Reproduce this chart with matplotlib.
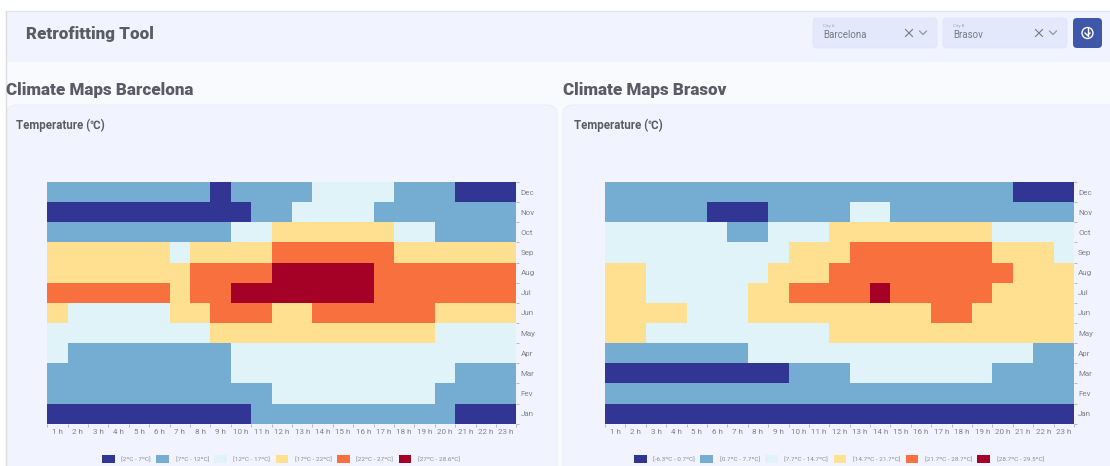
import matplotlib
matplotlib.use("Agg")
import matplotlib.pyplot as plt
from matplotlib.colors import ListedColormap, BoundaryNorm
from matplotlib.patches import FancyBboxPatch, Patch, Rectangle, Circle
import numpy as np

plt.rcParams['font.family'] = ['Roboto', 'DejaVu Sans']

hours = ['%d h' % h for h in range(1, 24)]
months = ['Jan', 'Fev', 'Mar', 'Apr', 'May', 'Jun', 'Jul', 'Aug', 'Sep', 'Oct', 'Nov', 'Dec']
colors = ['#313695', '#74add1', '#e0f3f8', '#fee090', '#f9703f', '#a50026']

# temperature class per hour, Jan first
barcelona = [
    [0,0,0,0,0,0,0,0,0,0,1,1,1,1,1,1,1,1,1,1,0,0,0],
    [1,1,1,1,1,1,1,1,1,1,1,2,2,2,2,2,2,2,2,1,1,1,1],
    [1,1,1,1,1,1,1,1,1,2,2,2,2,2,2,2,2,2,2,2,1,1,1],
    [2,1,1,1,1,1,1,1,1,2,2,2,2,2,2,2,2,2,2,2,2,2,2],
    [2,2,2,2,2,2,2,2,3,3,3,3,3,3,3,3,3,3,3,2,2,2,2],
    [3,2,2,2,2,2,3,3,4,4,4,3,3,4,4,4,4,4,4,3,3,3,3],
    [4,4,4,4,4,4,3,4,4,5,5,5,5,5,5,5,4,4,4,4,4,4,4],
    [3,3,3,3,3,3,3,4,4,4,4,5,5,5,5,5,4,4,4,4,4,4,4],
    [3,3,3,3,3,3,2,3,3,3,3,4,4,4,4,4,4,3,3,3,3,3,3],
    [1,1,1,1,1,1,1,1,1,2,2,3,3,3,3,3,3,2,2,1,1,1,1],
    [0,0,0,0,0,0,0,0,0,0,1,1,2,2,2,2,1,1,1,1,1,1,1],
    [1,1,1,1,1,1,1,1,0,1,1,1,1,2,2,2,2,1,1,1,0,0,0],
]
brasov = [
    [0,0,0,0,0,0,0,0,0,0,0,0,0,0,0,0,0,0,0,0,0,0,0],
    [1,1,1,1,1,1,1,1,1,1,1,1,1,1,1,1,1,1,1,1,1,1,1],
    [0,0,0,0,0,0,0,0,0,1,1,1,2,2,2,2,2,2,2,1,1,1,1],
    [1,1,1,1,1,1,1,2,2,2,2,2,2,2,2,2,2,2,2,2,2,1,1],
    [3,3,2,2,2,2,2,2,2,2,2,3,3,3,3,3,3,3,3,3,3,3,3],
    [3,3,3,3,2,2,2,3,3,3,3,3,3,3,3,3,4,4,3,3,3,3,3],
    [3,3,2,2,2,2,2,3,3,4,4,4,4,5,4,4,4,4,4,3,3,3,3],
    [3,3,2,2,2,2,2,2,3,3,3,4,4,4,4,4,4,4,4,4,3,3,3],
    [2,2,2,2,2,2,2,2,2,3,3,3,4,4,4,4,4,4,4,3,3,3,2],
    [2,2,2,2,2,2,1,1,2,2,2,3,3,3,3,3,3,3,3,2,2,2,2],
    [1,1,1,1,1,0,0,0,1,1,1,1,2,2,1,1,1,1,1,1,1,1,1],
    [1,1,1,1,1,1,1,1,1,1,1,1,1,1,1,1,1,1,1,1,0,0,0],
]
ranges_a = ['[2ºC - 7ºC]', '[7ºC - 12ºC]', '[12ºC - 17ºC]', '[17ºC - 22ºC]', '[22ºC - 27ºC]', '[27ºC - 28.6ºC]']
ranges_b = ['[-6.3ºC - 0.7ºC]', '[0.7ºC - 7.7ºC]', '[7.7ºC - 14.7ºC]', '[14.7ºC - 21.7ºC]', '[21.7ºC - 28.7ºC]', '[28.7ºC - 29.5ºC]']

W, H = 1110, 466
page = '#f9fafd'
panel = '#f1f4fe'
dark_text = '#5b5b66'
tick_text = '#80828e'

fig = plt.figure(figsize=(W / 100, H / 100), dpi=100, facecolor='white')

# page furniture, drawn in pixel coordinates
bg = fig.add_axes([0, 0, 1, 1])
bg.set_xlim(0, W)
bg.set_ylim(H, 0)
bg.axis('off')
bg.add_patch(Rectangle((6, 11), W - 6, H - 11, fc=page, ec='none'))
bg.add_patch(Rectangle((6, 11), W - 6, 51, fc=panel, ec='none'))
bg.plot([6, W], [10.5, 10.5], color='#e6e6ea', lw=1)
bg.plot([6.3, 6.3], [11, H], color='#dcdce2', lw=1)
for x0, x1 in [(6.5, 557), (563, 1125)]:
    bg.add_patch(FancyBboxPatch((x0 + 8, 113), x1 - x0 - 16, H, boxstyle='round,pad=8,rounding_size=10',
                                fc=panel, ec='#eceef8', lw=0.8))
bg.set_xlim(0, W)
bg.set_ylim(H, 0)

bg.text(26, 34, 'Retrofitting Tool', fontsize=12.25, fontweight='black', color=dark_text, va='center')
bg.text(6, 90, 'Climate Maps Barcelona', fontsize=12.25, fontweight='black', color=dark_text, va='center')
bg.text(563, 90, 'Climate Maps Brasov', fontsize=12.25, fontweight='black', color=dark_text, va='center')
bg.text(16, 125.5, 'Temperature (℃)', fontsize=8.3, fontweight='bold', color=dark_text, va='center')
bg.text(574, 125.5, 'Temperature (℃)', fontsize=8.3, fontweight='bold', color=dark_text, va='center')

# city selectors
for x0, small, city in [(813, 'City A', 'Barcelona'), (943, 'City B', 'Brasov')]:
    bg.add_patch(FancyBboxPatch((x0 + 4, 22), 116, 22, boxstyle='round,pad=4', fc='#e3e9fb', ec='#dfe6fa', lw=0.6))
    bg.text(x0 + 10, 25.5, small, fontsize=3.2, color='#a0a3b0', va='center')
    bg.text(x0 + 10.5, 34.5, city, fontsize=7, color='#777985', va='center')
    bg.plot([x0 + 92.5, x0 + 99.5], [29.5, 36.5], color='#787a86', lw=0.8)
    bg.plot([x0 + 92.5, x0 + 99.5], [36.5, 29.5], color='#787a86', lw=0.8)
    bg.plot([x0 + 106.5, x0 + 110, x0 + 113.5], [31, 34.5, 31], color='#8a8c98', lw=0.8)
bg.add_patch(FancyBboxPatch((1077, 22), 21, 22, boxstyle='round,pad=4', fc='#3f57a8', ec='none'))
bg.add_patch(Circle((1087.5, 33), 5.5, fc='none', ec='white', lw=1))
bg.plot([1087.5, 1087.5], [28, 35.5], color='white', lw=1)
bg.plot([1085, 1087.5, 1090], [33, 35.5, 33], color='white', lw=1)

cmap = ListedColormap(colors)
norm = BoundaryNorm(np.arange(-0.5, 6.5), 6)


def heatmap(left, grid, ranges, legend_x):
    ax = fig.add_axes([left / W, 1 - 423.7 / H, 469 / W, 241.7 / H])
    ax.set_facecolor('none')
    ax.pcolormesh(np.arange(24), np.arange(13), np.array(grid), cmap=cmap, norm=norm)
    for s in ax.spines.values():
        s.set_visible(False)
    ax.yaxis.tick_right()
    ax.set_xticks(np.arange(24))
    ax.set_yticks(np.arange(13))
    ax.set_xticklabels([])
    ax.set_yticklabels([])
    ax.set_xticks(np.arange(23) + 0.5, minor=True)
    ax.set_yticks(np.arange(12) + 0.5, minor=True)
    ax.set_xticklabels(hours, minor=True)
    ax.set_yticklabels(months, minor=True)
    ax.tick_params(which='major', length=2.5, width=0.6, color='#a9adbb')
    ax.tick_params(which='minor', length=0, labelsize=5.8, labelcolor=tick_text, pad=4)
    ax.tick_params(axis='y', which='minor', pad=3)
    handles = [Patch(fc=c, ec='none', label=r) for c, r in zip(colors, ranges)]
    ax.legend(handles=handles, ncol=6, frameon=False, loc='center', fontsize=4.6,
              bbox_to_anchor=((legend_x - left) / 469, (423.7 - 459) / 241.7),
              handlelength=2.0, handleheight=1.5, handletextpad=1.0, columnspacing=0.85,
              labelcolor='#8a8c98', borderpad=0, borderaxespad=0)
    return ax


heatmap(47.3, barcelona, ranges_a, 281)
heatmap(605, brasov, ranges_b, 839)

fig.savefig('out.png', dpi=100)
